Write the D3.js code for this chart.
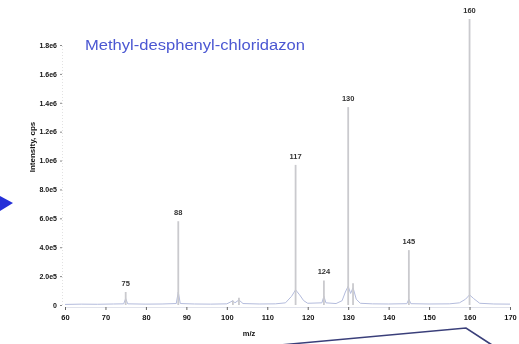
<!DOCTYPE html>
<html>
<head>
<meta charset="utf-8">
<script src="https://cdn.jsdelivr.net/npm/d3@7/dist/d3.min.js"></script>
<style>
  html, body { margin: 0; padding: 0; background: #fff; }
  svg { display: block; }
</style>
</head>
<body>
<svg id="chart" width="519" height="344"></svg>
<script>
// Mass spectrum of methyl-desphenyl-chloridazon
const compoundName = "Methyl-desphenyl-chloridazon";

// Centroid peaks (m/z and intensity in cps)
const peakMz        = [75,    88,     101.5,  103,    117,    124,    130,     131.2,  145,    160];
const peakIntensity = [9e4,   5.8e5,  3e4,    5e4,    9.7e5,  1.7e5,  1.37e6,  1.5e5,  3.8e5,  1.98e6];
const peakLabels    = ["75",  "88",   "",     "",     "117",  "124",  "130",   "",     "145",  "160"];

// Profile trace (m/z, intensity) with the broad humps and the noisy baseline
const profileMz = [60, 64, 68, 72, 74.5, 75, 75.5, 80, 84, 87.5, 88, 88.5, 92, 96, 100, 101, 101.5, 102, 103, 104, 108, 112,
  114.5, 116, 117, 118, 119, 120, 123.5, 124, 124.5, 127, 128.5, 129.3, 130, 130.6, 131.2, 132, 133, 136, 140, 144.5, 145, 145.5,
  150, 155, 157.5, 159, 160, 161, 162.5, 166, 170];
const profileInt = [4e3, 6e3, 5e3, 7e3, 8e3, 4.5e4, 8e3, 6e3, 7e3, 1e4, 9e4, 1e4, 7e3, 6e3, 8e3, 2.2e4, 3e4, 1.5e4, 3.5e4, 1e4, 7e3, 8e3,
  1.5e4, 6e4, 1.05e5, 7e4, 3e4, 1.2e4, 1.5e4, 6e4, 1.5e4, 1e4, 3e4, 9e4, 1.3e5, 8e4, 1.2e5, 4e4, 1.2e4, 8e3, 7e3, 9e3, 4e4, 9e3,
  7e3, 8e3, 1.5e4, 4e4, 7e4, 4.5e4, 1.2e4, 7e3, 6e3];

// Axis ticks
const xTicks = [60, 70, 80, 90, 100, 110, 120, 130, 140, 150, 160, 170];
const yTicks = [0, 2e5, 4e5, 6e5, 8e5, 1e6, 1.2e6, 1.4e6, 1.6e6, 1.8e6];
const yTickLabels = ["0", "2.0e5", "4.0e5", "6.0e5", "8.0e5", "1.0e6", "1.2e6", "1.4e6", "1.6e6", "1.8e6"];

const svg = d3.select("#chart");
const g = svg.append("g").style("filter", "blur(0.45px)");

const x = d3.scaleLinear().domain([60, 170]).range([65, 510]);
const y = d3.scaleLinear().domain([0, 1.8e6]).range([305, 45]);

const tickFont = "Liberation Sans, Arial, sans-serif";

// x axis
const xAxis = g.append("g")
  .attr("transform", `translate(0,${y(0) + 2})`)
  .call(d3.axisBottom(x).tickValues(xTicks).tickSize(3).tickFormat(d3.format("d")));
xAxis.select(".domain").attr("stroke", "#d8dbe6").attr("stroke-width", 0.8);
xAxis.selectAll(".tick line").attr("stroke", "#666");
xAxis.selectAll("text")
  .attr("font-family", tickFont).attr("font-size", 7.5).attr("font-weight", "bold")
  .attr("fill", "#111").attr("dy", "0.9em");

// y axis
const yAxis = g.append("g")
  .attr("transform", `translate(62,0)`)
  .call(d3.axisLeft(y).tickValues(yTicks).tickSize(2)
    .tickFormat((d, i) => yTickLabels[i]));
yAxis.select(".domain").attr("stroke", "#e2e2e2").attr("stroke-dasharray", "1,2");
yAxis.selectAll(".tick line").attr("stroke", "#888");
yAxis.selectAll("text")
  .attr("font-family", tickFont).attr("font-size", 7).attr("font-weight", "bold")
  .attr("fill", "#111");

// axis titles
g.append("text")
  .attr("transform", `translate(35,147) rotate(-90)`)
  .attr("text-anchor", "middle")
  .attr("font-family", tickFont).attr("font-size", 8).attr("font-weight", "bold")
  .attr("fill", "#111")
  .text("Intensity, cps");

g.append("text")
  .attr("x", 249).attr("y", 336)
  .attr("text-anchor", "middle")
  .attr("font-family", tickFont).attr("font-size", 7.5).attr("font-weight", "bold")
  .attr("fill", "#111")
  .text("m/z");

// profile trace
const profile = profileMz.map((m, i) => [m, profileInt[i]]);
g.append("path")
  .datum(profile)
  .attr("fill", "none")
  .attr("stroke", "#b3bbdc")
  .attr("stroke-width", 1)
  .attr("d", d3.line().x(d => x(d[0])).y(d => y(d[1])));

// centroid sticks
const peaks = peakMz.map((m, i) => ({ mz: m, v: peakIntensity[i], label: peakLabels[i] }));
g.selectAll(".stick")
  .data(peaks)
  .join("line")
  .attr("class", "stick")
  .attr("x1", d => x(d.mz)).attr("x2", d => x(d.mz))
  .attr("y1", y(0)).attr("y2", d => y(d.v))
  .attr("stroke", "#cacace")
  .attr("stroke-width", 1.8);

// peak labels
g.selectAll(".plabel")
  .data(peaks.filter(d => d.label))
  .join("text")
  .attr("class", "plabel")
  .attr("x", d => x(d.mz))
  .attr("y", d => y(d.v) - 6)
  .attr("text-anchor", "middle")
  .attr("font-family", tickFont).attr("font-size", 7.5).attr("font-weight", "bold")
  .attr("fill", "#333")
  .text(d => d.label);

// compound name
g.append("text")
  .attr("x", 85).attr("y", 50)
  .attr("font-family", "Liberation Sans, Arial, sans-serif")
  .attr("font-size", 14)
  .attr("textLength", 220)
  .attr("lengthAdjust", "spacingAndGlyphs")
  .attr("fill", "#4b57d2")
  .text(compoundName);

// navigation marker on the left edge
g.append("path")
  .attr("d", "M0,196 L13,203 L0,211 Z")
  .attr("fill", "#2530d8");

// connector line running below the axis
g.append("path")
  .attr("d", "M280,345 L466,328 L492,345")
  .attr("fill", "none")
  .attr("stroke", "#3a3f7a")
  .attr("stroke-width", 1.6);
</script>
</body>
</html>
